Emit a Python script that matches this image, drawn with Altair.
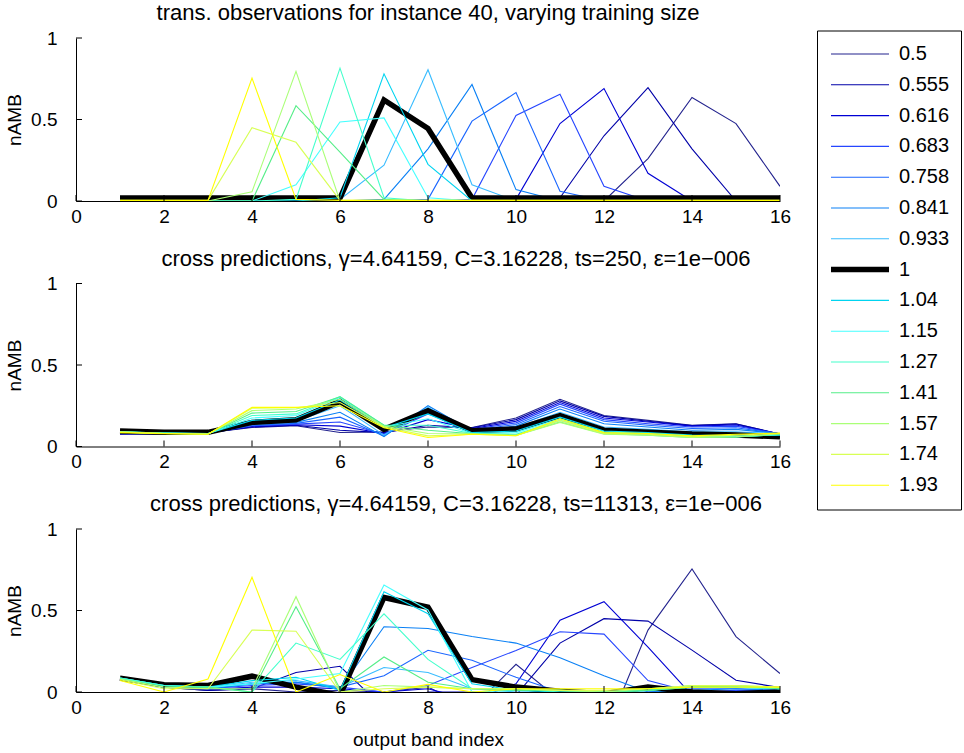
import altair as alt
import pandas as pd

# ---------------- data ----------------
X = list(range(1, 17))
XTICKS = [0, 2, 4, 6, 8, 10, 12, 14, 16]
YTICKS = [0, 0.5, 1]

LABELS = ["0.5", "0.555", "0.616", "0.683", "0.758", "0.841", "0.933", "1",
          "1.04", "1.15", "1.27", "1.41", "1.57", "1.74", "1.93"]
COLORS = ["#23238e", "#0000a8", "#0000d4", "#2646ff", "#1a66ff", "#0a80f5", "#38bcff", "#000000",
          "#00d4f0", "#44ffff", "#44ffcc", "#55ee88", "#aaff77", "#d8ff55", "#ffff00"]
WIDTHS = [1.1, 1.1, 1.1, 1.1, 1.1, 1.1, 1.1, 5.5, 1.1, 1.1, 1.1, 1.1, 1.1, 1.1, 1.1]

TITLES = [
    "trans. observations for instance 40, varying training size",
    "cross predictions, \u03b3=4.64159, C=3.16228, ts=250, \u03b5=1e\u2212006",
    "cross predictions, \u03b3=4.64159, C=3.16228, ts=11313, \u03b5=1e\u2212006",
]

TOP = [
    [0, 0, 0, 0, 0, 0, 0, 0, 0, 0, 0, 0, 0.26, 0.635, 0.475, 0.09],
    [0, 0, 0, 0, 0, 0, 0, 0, 0, 0, 0.02, 0.40, 0.695, 0.32, 0, 0],
    [0, 0, 0, 0, 0, 0, 0, 0, 0, 0.01, 0.475, 0.69, 0.17, 0, 0, 0],
    [0, 0, 0, 0, 0, 0, 0, 0, 0.01, 0.525, 0.655, 0.09, 0, 0, 0, 0],
    [0, 0, 0, 0, 0, 0, 0, 0.01, 0.49, 0.665, 0.06, 0, 0, 0, 0, 0],
    [0, 0, 0, 0, 0, 0, 0.01, 0.32, 0.715, 0.07, 0, 0, 0, 0, 0, 0],
    [0, 0, 0, 0, 0, 0.01, 0.22, 0.805, 0.10, 0, 0, 0, 0, 0, 0, 0],
    [0.018, 0.018, 0.018, 0.018, 0.018, 0.018, 0.62, 0.445, 0.018, 0.018, 0.018, 0.018, 0.018, 0.018, 0.018, 0.018],
    [0, 0, 0, 0, 0, 0.02, 0.78, 0.225, 0, 0, 0, 0, 0, 0, 0, 0],
    [0, 0, 0, 0, 0.10, 0.485, 0.51, 0.02, 0, 0, 0, 0, 0, 0, 0, 0],
    [0, 0, 0, 0, 0.01, 0.815, 0.02, 0, 0, 0, 0, 0, 0, 0, 0, 0],
    [0, 0, 0, 0, 0.585, 0.30, 0.01, 0, 0, 0, 0, 0, 0, 0, 0, 0],
    [0, 0, 0, 0.057, 0.795, 0, 0, 0, 0, 0, 0, 0, 0, 0, 0, 0],
    [0.004, 0.004, 0.004, 0.45, 0.36, 0.004, 0.004, 0.004, 0.004, 0.004, 0.004, 0.004, 0.004, 0.004, 0.004, 0.004],
    [0.004, 0.004, 0.004, 0.754, 0.01, 0.004, 0.004, 0.004, 0.004, 0.004, 0.004, 0.004, 0.004, 0.004, 0.004, 0.004],
]

MID = [
    [.075, .078, .085, .117, .127, .086, .090, .120, .117, .175, .290, .190, .160, .130, .140, .075],
    [.077, .078, .084, .120, .130, .100, .085, .130, .115, .165, .280, .185, .155, .128, .138, .076],
    [.078, .079, .083, .123, .133, .125, .080, .165, .110, .155, .270, .175, .150, .125, .132, .077],
    [.080, .079, .082, .127, .137, .150, .075, .200, .105, .145, .260, .165, .140, .120, .125, .078],
    [.082, .080, .081, .130, .142, .180, .065, .235, .100, .135, .245, .155, .130, .110, .115, .078],
    [.083, .080, .080, .135, .148, .210, .060, .250, .095, .125, .230, .140, .120, .100, .105, .079],
    [.085, .081, .080, .140, .155, .250, .070, .240, .090, .115, .210, .120, .105, .090, .090, .078],
    [.095, .088, .087, .148, .164, .277, .105, .220, .097, .107, .190, .100, .088, .076, .070, .060],
    [.088, .082, .080, .160, .175, .285, .115, .200, .085, .095, .180, .095, .085, .070, .065, .070],
    [.090, .082, .079, .175, .190, .300, .120, .170, .080, .085, .170, .090, .080, .065, .060, .072],
    [.090, .082, .078, .190, .200, .306, .130, .130, .080, .075, .160, .085, .075, .060, .058, .074],
    [.090, .081, .077, .205, .215, .305, .130, .100, .078, .070, .150, .078, .070, .055, .058, .076],
    [.090, .080, .076, .220, .230, .290, .125, .080, .078, .068, .148, .076, .070, .055, .060, .078],
    [.088, .080, .075, .235, .238, .270, .120, .065, .075, .066, .160, .080, .075, .060, .070, .080],
    [.085, .079, .075, .240, .240, .250, .115, .055, .075, .066, .170, .085, .080, .065, .075, .082],
]

BOT = [
    [0.075, 0.03, 0.01, 0.02, 0.0, 0.01, 0.0, 0.03, -0.1, 0.17, -0.05, -0.27, 0.38, 0.755, 0.34, 0.113],
    [0.08, 0.03, 0.01, 0.02, 0.12, 0.158, -0.1, 0.0, 0.0, -0.02, 0.30, 0.45, 0.435, 0.257, 0.072, 0.027],
    [0.08, 0.03, 0.015, 0.03, 0.03, 0.02, 0.0, 0.02, -0.05, 0.05, 0.44, 0.554, 0.275, -0.02, 0.0, 0.0],
    [0.08, 0.03, 0.02, 0.04, 0.05, 0.03, 0.0, 0.04, 0.15, 0.255, 0.37, 0.355, 0.07, 0.0, 0.01, 0.01],
    [0.08, 0.035, 0.02, 0.05, 0.06, 0.03, 0.1, 0.256, 0.195, 0.09, 0.0, 0.0, 0.0, 0.02, 0.02, 0.01],
    [0.08, 0.035, 0.02, 0.05, 0.06, 0.02, 0.40, 0.39, 0.34, 0.30, 0.21, 0.10, 0.0, 0.01, 0.02, 0.01],
    [0.08, 0.04, 0.025, 0.06, 0.07, 0.03, 0.15, 0.12, 0.02, 0.0, 0.0, 0.0, 0.01, 0.03, 0.03, 0.02],
    [0.085, 0.045, 0.04, 0.097, 0.03, -0.02, 0.58, 0.52, 0.076, 0.03, 0.005, -0.01, 0.03, 0.0, -0.01, 0.0],
    [0.085, 0.04, 0.03, 0.07, 0.09, 0.01, 0.615, 0.48, 0.05, 0.01, 0.0, 0.0, 0.02, 0.03, 0.03, 0.02],
    [0.085, 0.04, 0.03, 0.05, 0.08, 0.113, 0.657, 0.503, 0.0, 0.01, 0.01, 0.0, 0.01, 0.04, 0.04, 0.02],
    [0.085, 0.04, 0.03, 0.0, 0.30, 0.20, 0.48, 0.20, 0.02, 0.02, 0.0, 0.0, 0.01, 0.03, 0.03, 0.02],
    [0.08, 0.03, 0.03, 0.0, 0.523, 0.02, 0.215, 0.06, 0.02, 0.01, 0.01, 0.0, 0.01, 0.03, 0.04, 0.02],
    [0.08, 0.03, 0.02, 0.02, 0.585, 0.0, 0.04, 0.03, 0.02, 0.02, 0.01, 0.0, 0.02, 0.04, 0.04, 0.03],
    [0.075, 0.02, 0.02, 0.38, 0.373, 0.0, 0.02, 0.03, 0.02, 0.02, 0.01, 0.01, 0.02, 0.04, 0.04, 0.03],
    [0.07, 0.0, 0.08, 0.704, 0.0, 0.107, 0.0, 0.047, 0.0, 0.02, 0.02, 0.02, 0.02, 0.03, 0.03, 0.03],
]

# ---------------- chart ----------------
FONT = "Liberation Sans"
W, H = 704, 163


def frame(values):
    rows = []
    for i, lab in enumerate(LABELS):
        for x, v in zip(X, values[i]):
            rows.append({"x": x, "v": v, "ts": lab, "k": i})
    return pd.DataFrame(rows)


legend = alt.Legend(
    title=None, orient="none", legendX=741, legendY=-7.5,
    symbolType="stroke", symbolSize=3364, clipHeight=25, rowPadding=5.8,
    labelFont=FONT, labelFontSize=20, labelColor="black", labelOffset=7,
    strokeColor="black", fillColor="white", padding=11,
)

color = alt.Color("ts:N", scale=alt.Scale(domain=LABELS, range=COLORS), legend=legend)
swidth = alt.StrokeWidth("ts:N", scale=alt.Scale(type="ordinal", domain=LABELS, range=WIDTHS), legend=legend)


def panel(values, title, xtitle, dx):
    xaxis_kw = dict(values=XTICKS, format="~g", labelFlush=False)
    if xtitle:
        xaxis_kw["title"] = xtitle
    else:
        xaxis_kw["title"] = None
    df = frame(values)
    lines = alt.Chart(df).mark_line(clip=True).encode(
        x=alt.X("x:Q", scale=alt.Scale(domain=[0, 16], nice=False, zero=False), axis=alt.Axis(**xaxis_kw)),
        y=alt.Y("v:Q", scale=alt.Scale(domain=[0, 1], nice=False),
                axis=alt.Axis(values=YTICKS, format="~g", title="nAMB", labelFlush=False)),
        color=color,
        strokeWidth=swidth,
        order=alt.Order("x:Q"),
    )
    xt = alt.Chart(pd.DataFrame({"t": XTICKS})).mark_rule(color="black", strokeWidth=1).encode(
        x=alt.X("t:Q"), y=alt.value(H), y2=alt.value(H - 6))
    yt = alt.Chart(pd.DataFrame({"t": YTICKS})).mark_rule(color="black", strokeWidth=1).encode(
        y=alt.Y("t:Q"), x=alt.value(0), x2=alt.value(6))
    return alt.layer(lines, xt, yt).properties(
        width=W, height=H, title=alt.TitleParams(title, dx=dx))


p1 = panel(TOP, TITLES[0], None, 0)
p2 = panel(MID, TITLES[1], None, 28)
p3 = panel(BOT, TITLES[2], "output band index", 28)

chart = alt.vconcat(p1, p2, p3, spacing=21.5).properties(
    padding={"left": 5, "top": 2, "right": 1, "bottom": 1}
).configure_view(stroke=None).configure_axis(
    grid=False, ticks=False, domainColor="black", domainWidth=1,
    labelColor="black", labelFont=FONT, labelFontSize=19,
    titleFont=FONT, titleFontSize=19, titleFontWeight="normal", titleColor="black",
).configure_axisY(labelPadding=19, titlePadding=6).configure_axisX(labelPadding=6, titlePadding=13).configure_title(
    font=FONT, fontSize=22, fontWeight="normal", color="black", anchor="middle", frame="group", offset=0
)

chart.save("out.html", embed_options={"renderer": "svg", "actions": False})
